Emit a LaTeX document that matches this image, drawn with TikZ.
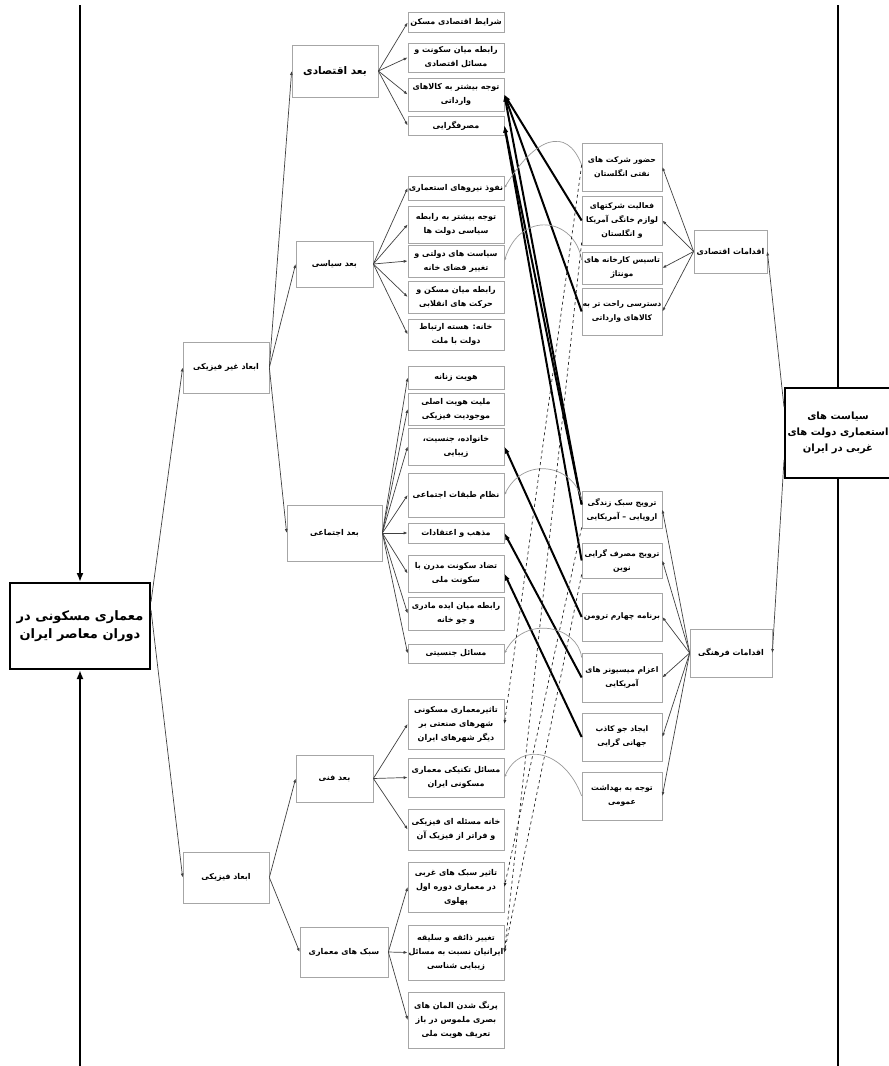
\documentclass[tikz,border=0pt]{standalone}
\usepackage{fontspec}
\usepackage{tikz}
\usetikzlibrary{arrows.meta}
\newfontfamily\arabicfont[Script=Arabic]{DejaVu Sans}
\TeXXeTstate=1
\newcommand\fa[1]{\beginR#1\endR}

\begin{document}
\begin{tikzpicture}[x=1pt, y=-1pt,
  box/.style={draw=black!35, line width=0.7pt, fill=white, align=center, inner sep=0.5pt,
    font=\arabicfont\bfseries\fontsize{8}{14}\selectfont},
  leaf/.style={box, minimum width=96pt},
  act/.style={box, minimum width=80pt, font=\arabicfont\bfseries\fontsize{7.7}{14}\selectfont},
  titlebox/.style={box, font=\arabicfont\bfseries\fontsize{10.5}{13}\selectfont},
  mainbox/.style={draw=black, line width=2pt, fill=white, align=center, inner sep=2pt,
    font=\arabicfont\bfseries\fontsize{13}{18}\selectfont},
  subarrow/.style={-{Latex[length=4pt,width=3pt]}, draw=black!75, line width=0.7pt},
  link/.style={-{Latex[length=7pt,width=5pt]}, line width=2pt},
  bendline/.style={-{Latex[length=3pt,width=2.5pt]}, draw=black!40, line width=0.7pt},
  dashlink/.style={-{Latex[length=4pt,width=3pt]}, dashed, draw=black!85, line width=0.7pt},
  frameline/.style={line width=2.4pt},
]
\useasboundingbox (0,0) rectangle (889,1066);
\clip (0,0) rectangle (889,1066);

% main boxes
\node[mainbox, minimum width=140pt, minimum height=86pt] (main) at (80,626) {\fa{معماری مسکونی در}\\\fa{دوران معاصر ایران}};
\node[mainbox, minimum width=106pt, minimum height=90pt, font=\arabicfont\bfseries\fontsize{10}{16}\selectfont] (pol) at (838,433) {\fa{سیاست های}\\\fa{استعماری دولت های}\\\fa{غربی در ایران}};

% dimensions
\node[box, minimum width=86pt, minimum height=51pt] (nf) at (226,367.5) {\fa{ابعاد غیر فیزیکی}};
\node[box, minimum width=86pt, minimum height=51pt] (pf) at (226,877.5) {\fa{ابعاد فیزیکی}};
\node[titlebox, minimum width=86pt, minimum height=52pt] (ec) at (335,71) {\fa{بعد اقتصادی}};
\node[box, minimum width=77pt, minimum height=46pt] (ps) at (334.5,264) {\fa{بعد سیاسی}};
\node[box, minimum width=95pt, minimum height=56pt] (ss) at (334.5,533) {\fa{بعد اجتماعی}};
\node[box, minimum width=77pt, minimum height=47pt] (ts) at (334.5,778.5) {\fa{بعد فنی}};
\node[box, minimum width=88pt, minimum height=50pt] (st) at (344,952) {\fa{سبک های معماری}};

% economic
\node[leaf, minimum height=20pt] (e1) at (456,22.5) {\fa{شرایط اقتصادی مسکن}};
\node[leaf, minimum height=29pt] (e2) at (456,57.5) {\fa{رابطه میان سکونت و}\\\fa{مسائل اقتصادی}};
\node[leaf, minimum height=33pt] (e3) at (456,94.5) {\fa{توجه بیشتر به کالاهای}\\\fa{وارداتی}};
\node[leaf, minimum height=19pt] (e4) at (456,125.5) {\fa{مصرفگرایی}};

% political
\node[leaf, minimum height=24pt] (p1) at (456,188) {\fa{نفوذ نیروهای استعماری}};
\node[leaf, minimum height=37pt] (p2) at (456,224.5) {\fa{توجه بیشتر به رابطه}\\\fa{سیاسی دولت ها}};
\node[leaf, minimum height=32pt] (p3) at (456,261) {\fa{سیاست های دولتی و}\\\fa{تغییر فضای خانه}};
\node[leaf, minimum height=32pt] (p4) at (456,297) {\fa{رابطه میان مسکن و}\\\fa{حرکت های انقلابی}};
\node[leaf, minimum height=31pt] (p5) at (456,334.5) {\fa{خانه: هسته ارتباط}\\\fa{دولت با ملت}};

% social
\node[leaf, minimum height=23pt] (s1) at (456,377.5) {\fa{هویت زنانه}};
\node[leaf, minimum height=32pt] (s2) at (456,409) {\fa{ملیت هویت اصلی}\\\fa{موجودیت فیزیکی}};
\node[leaf, minimum height=37pt] (s3) at (456,446.5) {\fa{خانواده، جنسیت،}\\\fa{زیبایی}};
\node[leaf, minimum height=44pt] (s4) at (456,495) {\fa{نظام طبقات اجتماعی}};
\node[leaf, minimum height=20pt] (s5) at (456,533) {\fa{مذهب و اعتقادات}};
\node[leaf, minimum height=37pt] (s6) at (456,573.5) {\fa{تضاد سکونت مدرن با}\\\fa{سکونت ملی}};
\node[leaf, minimum height=33pt] (s7) at (456,613.5) {\fa{رابطه میان ایده مادری}\\\fa{و جو خانه}};
\node[leaf, minimum height=19pt] (s8) at (456,653.5) {\fa{مسائل جنسیتی}};

% technical
\node[leaf, minimum height=50pt] (t1) at (456,724) {\fa{تاثیرمعماری مسکونی}\\\fa{شهرهای صنعتی بر}\\\fa{دیگر شهرهای ایران}};
\node[leaf, minimum height=39pt] (t2) at (456,777.5) {\fa{مسائل تکنیکی معماری}\\\fa{مسکونی ایران}};
\node[leaf, minimum height=41pt] (t3) at (456,829.5) {\fa{خانه مسئله ای فیزیکی}\\\fa{و فراتر از فیزیک آن}};

% styles
\node[leaf, minimum height=50pt] (a1) at (456,887) {\fa{تاثیر سبک های غربی}\\\fa{در معماری دوره اول}\\\fa{پهلوی}};
\node[leaf, minimum height=55pt] (a2) at (456,952.5) {\fa{تغییر ذائقه و سلیقه}\\\fa{ایرانیان نسبت به مسائل}\\\fa{زیبایی شناسی}};
\node[leaf, minimum height=56pt] (a3) at (456,1020) {\fa{پرنگ شدن المان های}\\\fa{بصری ملموس در باز}\\\fa{تعریف هویت ملی}};

% actions
\node[box, minimum width=73pt, minimum height=43pt] (ea) at (730.5,251.5) {\fa{اقدامات اقتصادی}};
\node[box, minimum width=82pt, minimum height=48pt] (ca) at (731,653) {\fa{اقدامات فرهنگی}};

\node[act, minimum height=48pt] (r1) at (622,167) {\fa{حضور شرکت های}\\\fa{نفتی انگلستان}};
\node[act, minimum height=49pt] (r2) at (622,220.5) {\fa{فعالیت شرکتهای}\\\fa{لوازم خانگی آمریکا}\\\fa{و انگلستان}};
\node[act, minimum height=32pt] (r3) at (622,268) {\fa{تاسیس کارخانه های}\\\fa{مونتاژ}};
\node[act, minimum height=47pt] (r4) at (622,311.5) {\fa{دسترسی راحت تر به}\\\fa{کالاهای وارداتی}};

\node[act, minimum height=37pt] (c1) at (622,509.5) {\fa{ترویج سبک زندگی}\\\fa{اروپایی – آمریکایی}};
\node[act, minimum height=35pt] (c2) at (622,560.5) {\fa{ترویج مصرف گرایی}\\\fa{نوین}};
\node[act, minimum height=48pt] (c3) at (622,617) {\fa{برنامه چهارم ترومن}};
\node[act, minimum height=49pt] (c4) at (622,677.5) {\fa{اعزام میسیونر های}\\\fa{آمریکایی}};
\node[act, minimum height=48pt] (c5) at (622,737) {\fa{ایجاد جو کاذب}\\\fa{جهانی گرایی}};
\node[act, minimum height=48pt] (c6) at (622,796) {\fa{توجه به بهداشت}\\\fa{عمومی}};

% frame
\coordinate (lt) at (80,5);
\coordinate (lb) at (80,1066);
\coordinate (rt) at (838,5);
\coordinate (rb) at (838,1066);
\draw[frameline, -{Latex[length=9pt,width=7pt]}] (lt) -- (main.north);
\draw[frameline, -{Latex[length=9pt,width=7pt]}] (lb) -- (main.south);
\draw[frameline] (rt) -- (pol.north);
\draw[frameline] (pol.south) -- (rb);

% tree
\draw[subarrow] ([yshift=24pt]main.east) -- (nf.west);
\draw[subarrow] ([yshift=16pt]main.east) -- (pf.west);
\draw[subarrow] (nf.east) -- (ec.west);
\draw[subarrow] (nf.east) -- (ps.west);
\draw[subarrow] (nf.east) -- (ss.west);
\draw[subarrow] (pf.east) -- (ts.west);
\draw[subarrow] (pf.east) -- (st.west);
\foreach \i in {1,...,4} \draw[subarrow] (ec.east) -- (e\i.west);
\foreach \i in {1,...,5} \draw[subarrow] (ps.east) -- (p\i.west);
\foreach \i in {1,...,8} \draw[subarrow] (ss.east) -- (s\i.west);
\foreach \i in {1,...,3} \draw[subarrow] (ts.east) -- (t\i.west);
\foreach \i in {1,...,3} \draw[subarrow] (st.east) -- (a\i.west);

\draw[subarrow] ([yshift=26pt]pol.west) -- (ea.east);
\draw[subarrow] ([yshift=-27pt]pol.west) -- (ca.east);
\foreach \i in {1,...,4} \draw[subarrow] (ea.west) -- (r\i.east);
\foreach \i in {1,...,6} \draw[subarrow] (ca.west) -- (c\i.east);

% thick links
\draw[link] (r2.west) -- (e3.east);
\draw[link] (r4.west) -- (e3.east);
\draw[link] ([yshift=5pt]c1.west) -- (e3.east);
\draw[link] ([yshift=5pt]c1.west) -- (e4.east);
\draw[link] (c2.west) -- (e4.east);
\draw[link] (c3.west) -- (s3.east);
\draw[link] (c4.west) -- (s5.east);
\draw[link] (c5.west) -- (s6.east);

% gray curves
\draw[bendline] ([yshift=2pt]r1.west) .. controls +(-15,-40) and +(30,-50) .. (p1.east);
\draw[bendline] ([yshift=8pt]r3.west) .. controls +(-7,-43) and +(16,-51) .. (p3.east);
\draw[bendline] ([yshift=9.5pt]c1.west) .. controls +(-7,-35) and +(20,-40) .. (s4.east);
\draw[bendline] ([yshift=20pt]c4.west) .. controls +(-4,-32) and +(20,-39) .. (s8.east);
\draw[bendline] (c6.west) .. controls +(-17,-46) and +(16,-37) .. (t2.east);

% dashed
\draw[dashlink] ([yshift=2pt]r1.west) -- (t1.east);
\draw[dashlink] ([yshift=-22pt]r2.west) -- (a2.east);
\draw[dashlink] ([yshift=-18pt]c1.west) -- (a1.east);
\draw[dashlink] ([yshift=-14pt]c2.west) -- (a2.east);
\end{tikzpicture}
\end{document}
